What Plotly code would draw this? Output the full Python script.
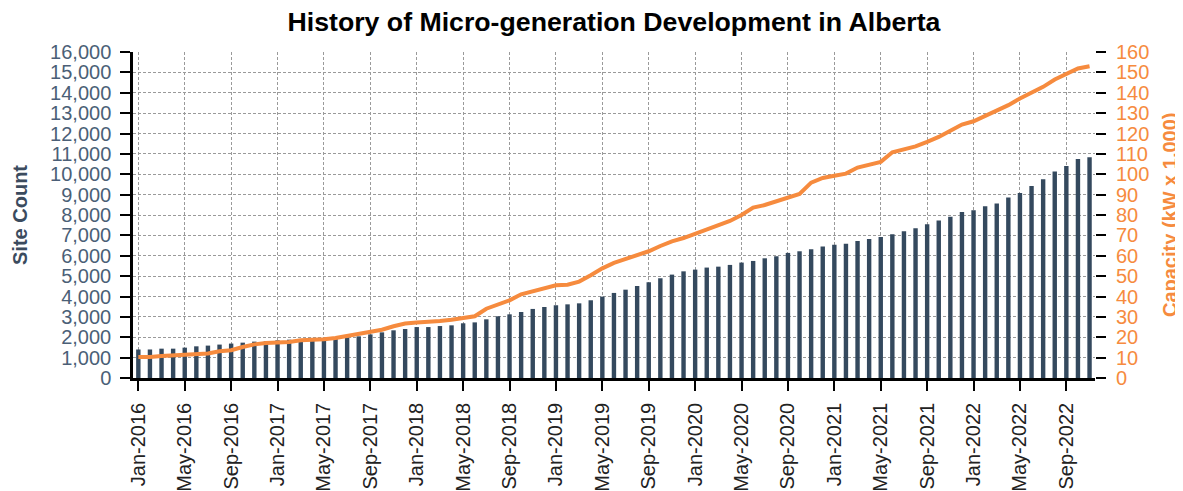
import pandas as pd
import plotly.graph_objects as go

months = pd.date_range("2016-01-01", "2022-11-01", freq="MS").strftime("%b-%Y").tolist()

site_count = [
    1400, 1400, 1440, 1440, 1490, 1555, 1590, 1640, 1690, 1735, 1785, 1800,
    1850, 1880, 1900, 1915, 1930, 1940, 1980, 2045, 2140, 2240, 2340, 2405,
    2500, 2500, 2550, 2585, 2685, 2730, 2880, 3030, 3125, 3240, 3390, 3485,
    3570, 3615, 3665, 3815, 3995, 4175, 4335, 4515, 4700, 4895, 5075, 5235,
    5320, 5420, 5465, 5550, 5665, 5745, 5875, 5975, 6140, 6220, 6315, 6450,
    6545, 6595, 6725, 6825, 6925, 7060, 7200, 7350, 7545, 7725, 7920, 8150,
    8230, 8430, 8560, 8855, 9085, 9425, 9755, 10130, 10410, 10750, 10835,
]

capacity = [
    10.3, 10.3, 10.8, 11.0, 11.5, 11.6, 12.0, 13.1, 13.6, 15.2, 16.5, 17.2,
    17.5, 17.7, 18.5, 18.7, 19.0, 19.6, 20.5, 21.8, 22.7, 23.7, 25.4, 26.7,
    27.2, 27.5, 28.0, 28.6, 29.5, 30.3, 34.0, 36.2, 38.1, 41.1, 42.7, 43.9,
    45.5, 45.8, 47.3, 50.4, 53.8, 56.5, 58.3, 60.2, 62.2, 64.8, 67.1, 68.7,
    70.9, 72.7, 75.3, 77.1, 80.0, 83.6, 84.9, 86.6, 88.7, 90.3, 95.9, 98.2,
    99.3, 100.3, 103.3, 104.9, 106.1, 110.8, 112.3, 113.7, 115.9, 118.3, 121.3, 124.4,
    126.0, 128.5, 130.9, 133.9, 137.2, 139.9, 142.9, 146.5, 149.4, 151.9, 153.0,
]

tick_labels = months[::4]

BAR = "#34495e"
ORANGE = "#f68b3e"
SLATE = "#4b5f77"
FONT = "Liberation Sans, Arial, sans-serif"
GRID = dict(showgrid=True, gridcolor="#9a9a9a", gridwidth=1, griddash="3px,2px")
TICKS = dict(ticks="outside", ticklen=10, tickwidth=2, tickcolor="black")

fig = go.Figure()
fig.add_trace(go.Bar(x=months, y=site_count, marker_color=BAR, marker_line_width=0,
                     name="Site Count", yaxis="y"))
fig.add_trace(go.Scatter(x=months, y=capacity, mode="lines",
                         line=dict(color=ORANGE, width=4), name="Capacity", yaxis="y2"))

# page body has an 8px margin, so the figure is sized 8px smaller and shifted
fig.update_layout(
    width=1175, height=483,
    margin=dict(l=125, r=88, t=44, b=113),
    paper_bgcolor="white", plot_bgcolor="white",
    showlegend=False,
    bargap=0.62,
    font=dict(family=FONT, size=20, color="#222"),
    title=dict(text="<b>History of Micro-generation Development in Alberta</b>",
               x=0.5157, xanchor="center", y=0.971, yanchor="middle",
               font=dict(size=26.7, color="black", family=FONT)),
    xaxis=dict(
        type="category", range=[-0.46, 82.47], automargin=False,
        tickmode="array", tickvals=tick_labels, ticktext=tick_labels,
        tickangle=-90, tickfont=dict(size=20, color="#222"), ticklabelstandoff=4,
        showline=True, linecolor="black", linewidth=2.5,
        zeroline=False, **TICKS, **GRID,
    ),
    yaxis=dict(
        range=[0, 16000], dtick=1000, tickformat=",", automargin=False,
        tickfont=dict(size=20, color=SLATE), ticklabelstandoff=5,
        showline=True, linecolor="black", linewidth=2.5,
        zeroline=False, **TICKS, **GRID,
    ),
    yaxis2=dict(
        range=[0, 160], dtick=10, overlaying="y", side="right", automargin=False,
        tickfont=dict(size=20, color=ORANGE), ticklabelstandoff=6,
        showline=False, showgrid=False, zeroline=False, **TICKS,
    ),
    annotations=[
        dict(text="<b>Site Count</b>", xref="paper", yref="paper",
             x=-0.1175, y=0.5, xanchor="center", yanchor="middle", textangle=-90,
             showarrow=False, font=dict(size=20, color="#3b4b5e", family=FONT)),
        dict(text="<b>Capacity (kW x 1,000)</b>", xref="paper", yref="paper",
             x=1.078, y=0.5, xanchor="center", yanchor="middle", textangle=-90,
             showarrow=False, font=dict(size=20, color=ORANGE, family=FONT)),
    ],
)

fig.write_html("out.html")
